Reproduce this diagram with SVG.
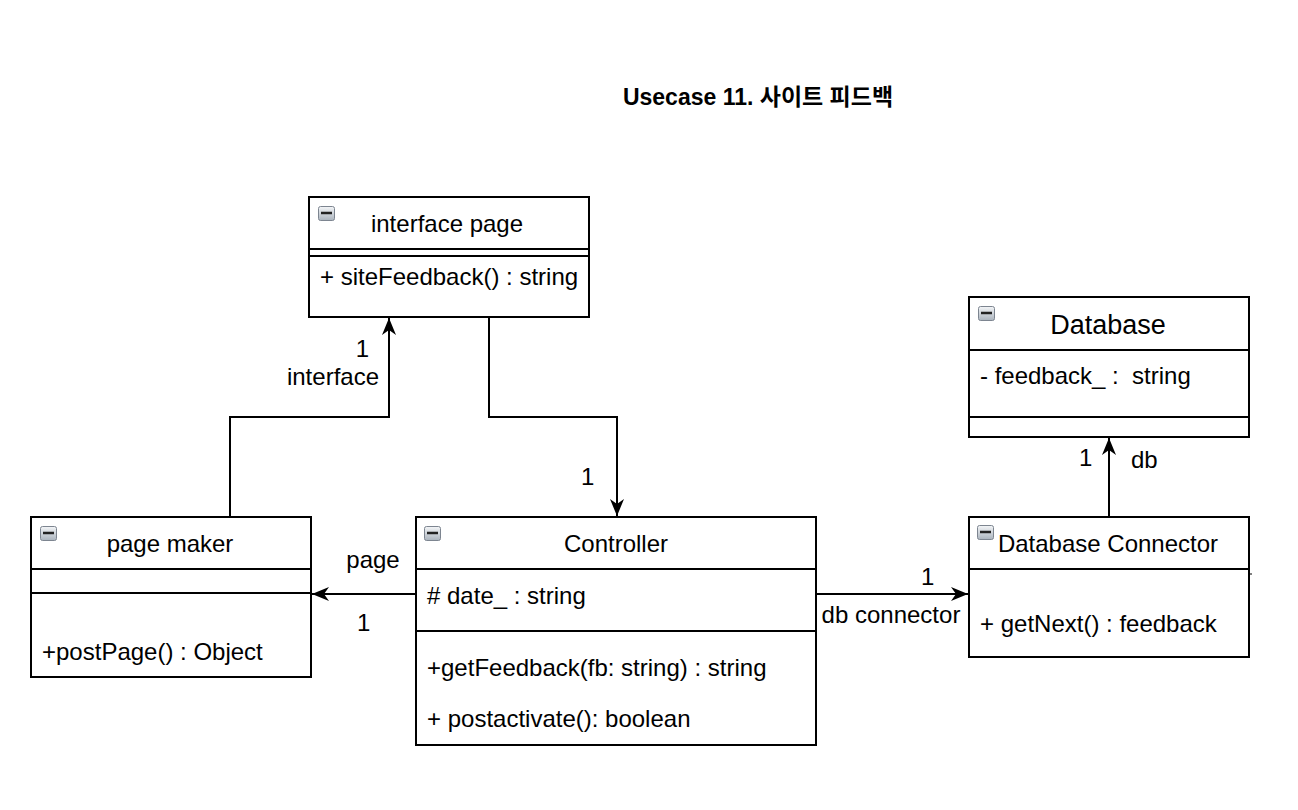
<svg xmlns="http://www.w3.org/2000/svg" width="1298" height="810" viewBox="0 0 1298 810">
<style>
.box{fill:#fff;stroke:#000;stroke-width:2}
.ln{stroke:#000;stroke-width:2;fill:none}
.t{font-family:"Liberation Sans",Arial,sans-serif;font-size:24px;fill:#000}
.c{text-anchor:middle}
.e{text-anchor:end}
.title{font-family:"Liberation Sans","Noto Sans CJK KR",sans-serif;font-size:23px;font-weight:bold;text-anchor:middle}
.ico{fill:url(#g);stroke:#7d8590;stroke-width:1}
.icl{stroke:#222;stroke-width:2.5}
</style>
<defs>
<linearGradient id="g" x1="0" y1="0" x2="0" y2="1"><stop offset="0" stop-color="#f4f6f8"/><stop offset="1" stop-color="#aab3bd"/></linearGradient>
<marker id="arr" markerUnits="userSpaceOnUse" markerWidth="18" markerHeight="14" refX="17" refY="7" orient="auto"><path d="M0,0 L17,7 L0,14 L5,7 z" fill="#000"/></marker>
</defs>
<rect width="1298" height="810" fill="#fff"/>
<text class="title" x="758" y="105">Usecase 11. 사이트 피드백</text>

<g id="connectors">
<polyline class="ln" points="230,517 230,417 389,417 389,318" marker-end="url(#arr)"/>
<polyline class="ln" points="489,317 489,417 617,417 617,516" marker-end="url(#arr)"/>
<line class="ln" x1="416" y1="594" x2="312" y2="594" marker-end="url(#arr)"/>
<line class="ln" x1="816" y1="594" x2="968" y2="594" marker-end="url(#arr)"/>
<line class="ln" x1="1109" y1="517" x2="1109" y2="438" marker-end="url(#arr)"/>
<text class="t e" x="369" y="357">1</text>
<text class="t e" x="379" y="385">interface</text>
<text class="t" x="581" y="485">1</text>
<text class="t c" x="373" y="568">page</text>
<text class="t" x="357" y="631">1</text>
<text class="t" x="921" y="585">1</text>
<text class="t c" x="891" y="623">db connector</text>
<text class="t" x="1079" y="466">1</text>
<text class="t" x="1131" y="468">db</text>
</g>

<g id="interface-page">
<rect class="box" x="309" y="197" width="280" height="120"/>
<line class="ln" x1="309" y1="249" x2="589" y2="249"/>
<line class="ln" x1="309" y1="256" x2="589" y2="256"/>
<rect class="ico" x="318.5" y="206.5" width="16" height="14" rx="2"/><line class="icl" x1="321" y1="213" x2="332" y2="213"/>
<text class="t c" x="447" y="232">interface page</text>
<text class="t" x="320" y="285">+ siteFeedback() : string</text>
</g>

<g id="database">
<rect class="box" x="969" y="297" width="280" height="140"/>
<line class="ln" x1="969" y1="350" x2="1249" y2="350"/>
<line class="ln" x1="969" y1="417" x2="1249" y2="417"/>
<rect class="ico" x="978.5" y="306.5" width="16" height="14" rx="2"/><line class="icl" x1="981" y1="313" x2="992" y2="313"/>
<text class="t c" x="1108" y="334" style="font-size:27px">Database</text>
<text class="t" x="980" y="384" xml:space="preserve">- feedback_ :  string</text>
</g>

<g id="database-connector">
<rect class="box" x="969" y="517" width="280" height="140"/>
<line class="ln" x1="969" y1="569" x2="1249" y2="569"/>
<line class="ln" x1="1249" y1="574" x2="1252" y2="574" style="stroke-width:1"/>
<rect class="ico" x="977.5" y="525.5" width="16" height="14" rx="2"/><line class="icl" x1="980" y1="532" x2="991" y2="532"/>
<text class="t c" x="1108" y="552">Database Connector</text>
<text class="t" x="980" y="632">+ getNext() : feedback</text>
</g>

<g id="page-maker">
<rect class="box" x="31" y="517" width="280" height="160"/>
<line class="ln" x1="31" y1="569" x2="311" y2="569"/>
<line class="ln" x1="31" y1="593" x2="311" y2="593"/>
<rect class="ico" x="40.5" y="526.5" width="16" height="14" rx="2"/><line class="icl" x1="43" y1="533" x2="54" y2="533"/>
<text class="t c" x="170" y="552">page maker</text>
<text class="t" x="42" y="660">+postPage() : Object</text>
</g>

<g id="controller">
<rect class="box" x="416" y="517" width="400" height="228"/>
<line class="ln" x1="416" y1="569" x2="816" y2="569"/>
<line class="ln" x1="416" y1="631" x2="816" y2="631"/>
<rect class="ico" x="424.5" y="526.5" width="16" height="14" rx="2"/><line class="icl" x1="427" y1="533" x2="438" y2="533"/>
<text class="t c" x="616" y="552">Controller</text>
<text class="t" x="427" y="604"># date_ : string</text>
<text class="t" x="427" y="676">+getFeedback(fb: string) : string</text>
<text class="t" x="427" y="727">+ postactivate(): boolean</text>
</g>
</svg>
